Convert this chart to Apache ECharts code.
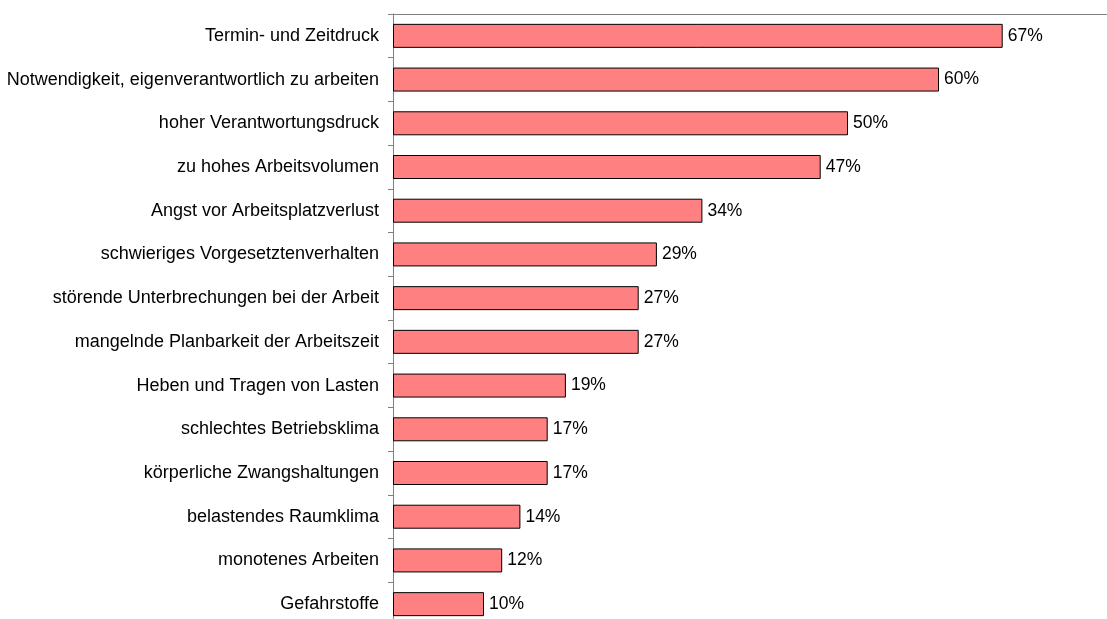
<!DOCTYPE html>
<html lang="de">
<head>
  <meta charset="UTF-8">
  <title>Belastungen</title>
  <style>
    html,body{margin:0;padding:0;overflow:hidden;background:#fff;}
    #main{width:1130px;height:640px;}
  </style>
</head>
<body>
  <div id="main"></div>
  <script src="https://cdn.jsdelivr.net/npm/echarts@6/dist/echarts.min.js"></script>
  <script>
    const categories=['Termin- und Zeitdruck','Notwendigkeit, eigenverantwortlich zu arbeiten','hoher Verantwortungsdruck','zu hohes Arbeitsvolumen','Angst vor Arbeitsplatzverlust','schwieriges Vorgesetztenverhalten','störende Unterbrechungen bei der Arbeit','mangelnde Planbarkeit der Arbeitszeit','Heben und Tragen von Lasten','schlechtes Betriebsklima','körperliche Zwangshaltungen','belastendes Raumklima','monotenes Arbeiten','Gefahrstoffe'];
    const values=[67,60,50,47,34,29,27,27,19,17,17,14,12,10];

    const chart=echarts.init(document.querySelector('#main'));
    const option={
      animation:false,
      grid:{left:393,top:14,width:728,height:612},
      xAxis:{
        type:'value',
        position:'top',
        min:0,
        max:80,
        axisLine:{show:true,lineStyle:{color:'#808080',width:1}},
        axisTick:{show:false},
        axisLabel:{show:false},
        splitLine:{show:false}
      },
      yAxis:{
        type:'category',
        inverse:true,
        data:categories,
        axisLine:{show:true,lineStyle:{color:'#808080',width:1}},
        axisTick:{show:true,length:5,lineStyle:{color:'#808080'}},
        axisLabel:{color:'#000',fontFamily:'Liberation Sans, Arial, sans-serif',fontSize:18,margin:14}
      },
      series:[{
        type:'bar',
        data:values,
        barWidth:24,
        itemStyle:{color:'#FF8080',borderColor:'#000',borderWidth:1},
        label:{
          show:true,
          position:'right',
          distance:5,
          formatter:p=>p.value+'%',
          color:'#000',
          fontFamily:'Liberation Sans, Arial, sans-serif',
          fontSize:17.5
        }
      }]
    };
    chart.setOption(option);
  </script>
</body>
</html>
